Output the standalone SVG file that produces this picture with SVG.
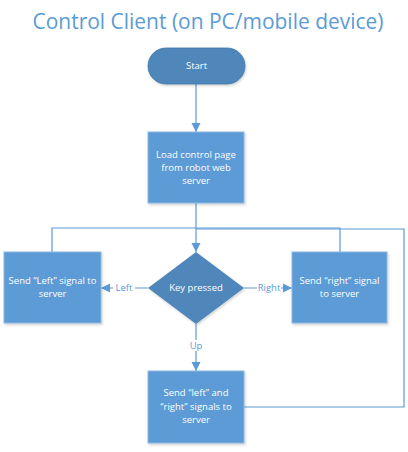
<svg xmlns="http://www.w3.org/2000/svg" width="408" height="452" viewBox="0 0 408 452">
  <defs>
    <marker id="arr" markerWidth="9" markerHeight="10" refX="9" refY="5" orient="auto" markerUnits="userSpaceOnUse">
      <path d="M0,0.5 L9,5 L0,9.5 Z" fill="#5B9BD5"/>
    </marker>
    <filter id="sh" x="-10%" y="-10%" width="130%" height="130%">
      <feDropShadow dx="1" dy="1.5" stdDeviation="1" flood-color="#000" flood-opacity="0.18"/>
    </filter>
  </defs>
  <style>
    .title { font-family: "Open Sans", "Noto Sans", "Liberation Sans", sans-serif; font-size: 21px; fill: #5B9BD5; font-weight: 400; }
    .box { fill: #5B9BD5; stroke: #8DB8E2; stroke-width: 1; filter: url(#sh); }
    .dark { fill: #4F87BB; filter: url(#sh); }
    .t { font-family: "Open Sans", "Noto Sans", "Liberation Sans", sans-serif; font-size: 9.5px; fill: #FFFFFF; text-anchor: middle; }
    .lbl { font-family: "Open Sans", "Noto Sans", "Liberation Sans", sans-serif; font-size: 9.5px; fill: #5B9BD5; text-anchor: middle; }
    .c { fill: none; stroke: #5B9BD5; stroke-width: 1.2; }
  </style>
  <rect width="408" height="452" fill="#FFFFFF"/>
  <text class="title" x="208" y="29" text-anchor="middle" textLength="351" lengthAdjust="spacingAndGlyphs">Control Client (on PC/mobile device)</text>

  <g id="connectors">
    <line class="c" x1="196" y1="84" x2="196" y2="132" marker-end="url(#arr)"/>
    <line class="c" x1="196" y1="203" x2="196" y2="252" marker-end="url(#arr)"/>
    <polyline class="c" points="52,252 52,228 196,228"/>
    <polyline class="c" points="340,252 340,228 196,228"/>
    <polyline class="c" points="244,407 404,407 404,229 196,229"/>
    <line class="c" x1="148" y1="288" x2="101" y2="288" marker-end="url(#arr)"/>
    <line class="c" x1="244" y1="288" x2="292" y2="288" marker-end="url(#arr)"/>
    <line class="c" x1="196" y1="324" x2="196" y2="371" marker-end="url(#arr)"/>
    <rect x="113" y="282" width="22" height="11" fill="#FFFFFF"/>
    <text class="lbl" x="124" y="291">Left</text>
    <rect x="257" y="282" width="24" height="11" fill="#FFFFFF"/>
    <text class="lbl" x="269" y="291">Right</text>
    <rect x="188" y="340" width="16" height="11" fill="#FFFFFF"/>
    <text class="lbl" x="196" y="349">Up</text>
  </g>

  <g id="start">
    <rect class="dark" x="148" y="48" width="97" height="36" rx="18" ry="18" stroke="#3F76A8" stroke-width="0.8"/>
    <text class="t" x="196.5" y="69">Start</text>
  </g>

  <g id="load">
    <rect class="box" x="148" y="132" width="96" height="71"/>
    <text class="t" x="196" y="158">Load control page</text>
    <text class="t" x="196" y="171">from robot web</text>
    <text class="t" x="196" y="184">server</text>
  </g>

  <g id="key">
    <polygon class="dark" points="196,252 244,288 196,324 148,288"/>
    <text class="t" x="196" y="291">Key pressed</text>
  </g>

  <g id="left">
    <rect class="box" x="4" y="252" width="97" height="71"/>
    <text class="t" x="52.5" y="284">Send “Left” signal to</text>
    <text class="t" x="52.5" y="297">server</text>
  </g>

  <g id="right">
    <rect class="box" x="292" y="252" width="95" height="71"/>
    <text class="t" x="339.5" y="284">Send “right” signal</text>
    <text class="t" x="339.5" y="297">to server</text>
  </g>

  <g id="both">
    <rect class="box" x="148" y="371" width="96" height="72"/>
    <text class="t" x="196" y="396">Send “left” and</text>
    <text class="t" x="196" y="410">“right” signals to</text>
    <text class="t" x="196" y="423">server</text>
  </g>
</svg>
